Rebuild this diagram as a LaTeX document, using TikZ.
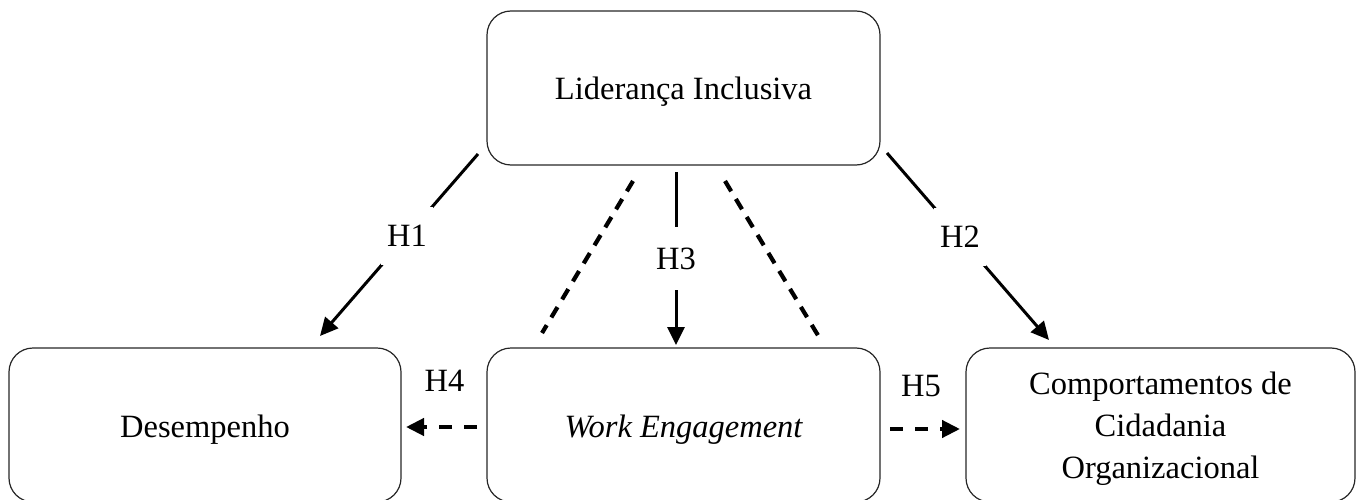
\documentclass[tikz,border=0pt]{standalone}
\usepackage{fontspec}
\setmainfont{Liberation Serif}
\usetikzlibrary{arrows.meta}
\newcommand{\lowered}[2]{\raisebox{-#1}[\height][\depth]{#2}}
\begin{document}
\begin{tikzpicture}[x=1pt,y=-1pt,
  box/.style={draw=black!85, line width=1.2pt, rounded corners=24pt,
    minimum width=#1, minimum height=154pt, inner sep=0pt, align=center,
    font=\fontsize{32.5}{42}\selectfont},
  tip/.style={-{Triangle[length=18pt,width=17pt]}},
  solidarr/.style={line width=3pt, tip},
  dasharr/.style={line width=4.2pt, dash pattern=on 13pt off 12pt, tip},
  dashline/.style={line width=4.2pt, dash pattern=on 12pt off 9pt},
  cutlbl/.style={fill=white, font=\fontsize{32.5}{38}\selectfont, inner xsep=6pt, inner ysep=18pt},
  toplbl/.style={font=\fontsize{32.5}{38}\selectfont, inner sep=0pt}
]
\useasboundingbox (0,0) rectangle (1359,500);

\node[box=393pt] (lider) at (683.5,88) {\lowered{4pt}{Liderança Inclusiva}};
\node[box=392pt] (des) at (205,425) {\lowered{5pt}{Desempenho}};
\node[box=393pt] (we) at (683.5,425) {\lowered{5pt}{\itshape Work Engagement}};
\node[box=389pt] (cco) at (1160.5,425) {\lowered{3pt}{\begin{tabular}{@{}c@{}}Comportamentos de\\Cidadania\\Organizacional\end{tabular}}};

% connector end points
\coordinate (h1a) at (478,154);
\coordinate (h1b) at (320,336);
\coordinate (h2a) at (887,153);
\coordinate (h2b) at (1049,340);
\coordinate (h3a) at (676,172);
\coordinate (h3b) at (676,345);
\coordinate (dla) at (633,181);
\coordinate (dlb) at (542,333);
\coordinate (dra) at (725,181);
\coordinate (drb) at (819,337);
\coordinate (h4a) at (477,427);
\coordinate (h4b) at (406,427);
\coordinate (h5a) at (890,429);
\coordinate (h5b) at (960,429);

\draw[solidarr] (h1a) -- node[cutlbl, pos=0.45] {H1} (h1b);
\draw[solidarr] (h2a) -- node[cutlbl, pos=0.45] {H2} (h2b);
\draw[solidarr] (h3a) -- node[cutlbl, pos=0.5, inner ysep=21pt] {H3} (h3b);
\draw[dashline] (dla) -- (dlb);
\draw[dashline] (dra) -- (drb);
\draw[dasharr] (h4a) -- node[toplbl, pos=0.5, yshift=46pt, xshift=3pt] {H4} (h4b);
\draw[dasharr] (h5a) -- node[toplbl, pos=0.5, yshift=43pt, xshift=-4pt] {H5} (h5b);
\end{tikzpicture}
\end{document}
